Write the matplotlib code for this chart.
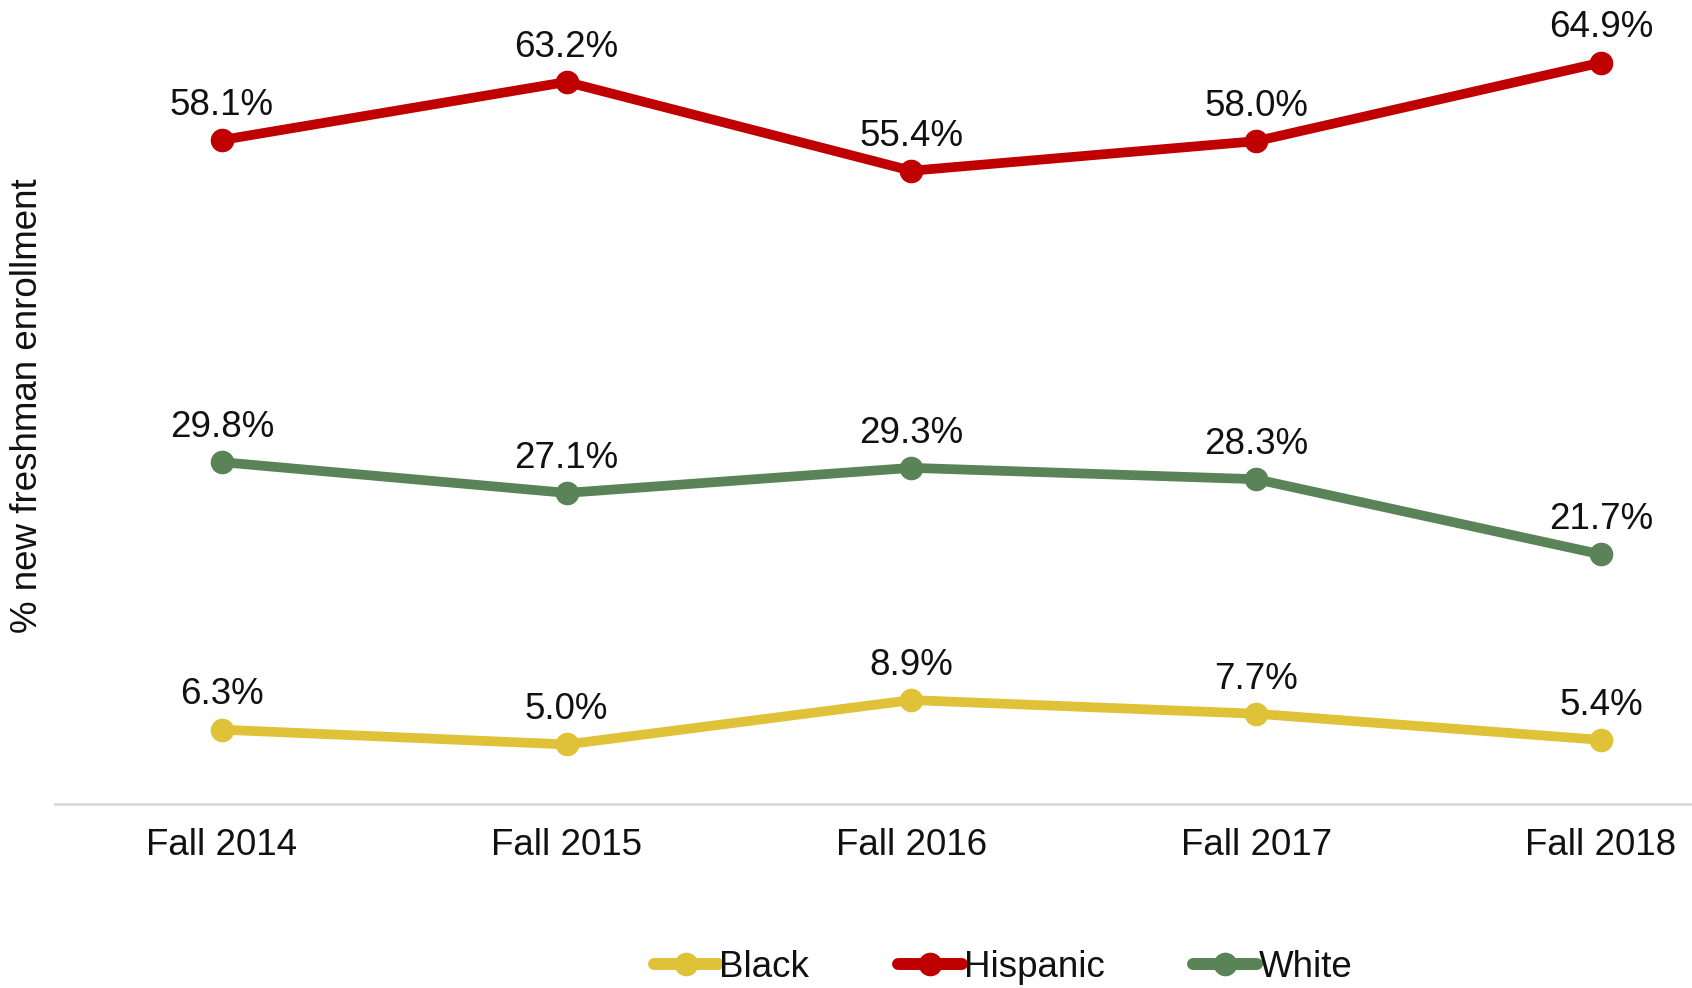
import matplotlib
matplotlib.use("Agg")
import matplotlib.pyplot as plt

categories = ["Fall 2014", "Fall 2015", "Fall 2016", "Fall 2017", "Fall 2018"]
black = [6.3, 5.0, 8.9, 7.7, 5.4]
hispanic = [58.1, 63.2, 55.4, 58.0, 64.9]
white = [29.8, 27.1, 29.3, 28.3, 21.7]

series = [("Black", black, "#DFC238"), ("Hispanic", hispanic, "#C00000"), ("White", white, "#5A8358")]

plt.rcParams['font.family'] = ['Liberation Sans', 'DejaVu Sans']
FS = 26.5
TC = '#111111'

fig = plt.figure(figsize=(16.92, 9.88), dpi=100)
ax = fig.add_axes([55/1692, 1-804/988, 1-55/1692, 804/988])

x = list(range(len(categories)))
for name, vals, col in series:
    ax.plot(x, vals, color=col, lw=7, marker='o', ms=16, label=name, solid_capstyle='round')
    for xi, v in zip(x, vals):
        ax.annotate(f"{v:.1f}%", (xi, v), xytext=(0, 25), textcoords='offset points',
                    ha='center', va='center', fontsize=FS, color=TC)

ax.set_xlim(-0.484, 4.264)
ax.set_ylim(-0.23, 70.4)
ax.set_xticks(x)
ax.set_xticklabels(categories, fontsize=FS, color=TC)
ax.tick_params(axis='x', length=0, pad=17)
ax.set_yticks([])
for s in ['top', 'right', 'left']:
    ax.spines[s].set_visible(False)
ax.spines['bottom'].set_color('#D9D9D9')
ax.spines['bottom'].set_linewidth(2)

fig.text(28/1692, 1-406/988, "% new freshman enrollment", rotation=90, ha='center', va='center',
         fontsize=FS, color=TC)

leg = fig.legend(loc='center', bbox_to_anchor=(1003/1692, 1-967/988), ncol=3, frameon=False,
                 fontsize=FS, handlelength=1.74, handletextpad=0.05, columnspacing=2.4,
                 markerscale=1.0)
for h in leg.legend_handles:
    h.set_linewidth(8.6)
    h.set_solid_capstyle('round')
for t in leg.get_texts():
    t.set_color(TC)

fig.savefig("out.png", dpi=100)
